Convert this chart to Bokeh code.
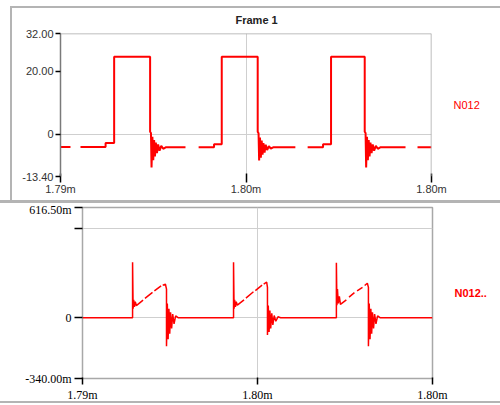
from bokeh.plotting import figure
from bokeh.models import FixedTicker, Range1d, Span, LinearAxis
from bokeh.embed import file_html
from bokeh.resources import INLINE

NAN = float("nan")

# ---------------- data ----------------
title_text = "Frame 1"
top_name = "N012"
bot_name = "N012.."

x_lo, x_hi = 1790.0, 1803.0          # time, microseconds
x_ticks = [1790.0, 1796.5, 1803.0]
x_tick_labels = ["1.79m", "1.80m", "1.80m"]

top_y_lo, top_y_hi = -13.4, 32.0
top_y_ticks = [32.0, 20.0, 0.0, -13.4]
top_y_labels = ["32.00", "20.00", "0", "-13.40"]

bot_y_lo, bot_y_hi = -0.34, 0.6165
bot_y_ticks = [0.6165, 0.5, 0.0, -0.34]
bot_y_labels = ["616.50m", "", "0", "-340.00m"]

top_t = [1790.00, 1790.35, 1790.36, 1790.70, 1791.58, 1791.58, 1791.88, 1791.88,
         1793.14, 1793.14, 1793.17, 1793.19, 1793.22, 1793.25, 1793.28, 1793.31,
         1793.34, 1793.38, 1793.42, 1793.47, 1793.53, 1793.60, 1793.70, 1794.38,
         1794.39, 1794.84, 1795.38, 1795.38, 1795.65, 1795.65, 1796.91, 1796.91,
         1796.94, 1796.96, 1796.99, 1797.02, 1797.05, 1797.08, 1797.11, 1797.15,
         1797.19, 1797.24, 1797.30, 1797.37, 1797.47, 1798.23, 1798.24, 1798.66,
         1799.20, 1799.20, 1799.48, 1799.48, 1800.66, 1800.66, 1800.69, 1800.71,
         1800.74, 1800.77, 1800.80, 1800.83, 1800.86, 1800.90, 1800.94, 1800.99,
         1801.05, 1801.12, 1801.22, 1802.09, 1802.10, 1802.51, 1803.00]
top_v = [-4.0, -4.0, NAN, -4.0, -4.0, -2.8, -2.8, 24.6,
         24.6, 0.8, 0.4, -10.5, -0.8, -8.2, -1.8, -7.0,
         -2.6, -6.0, -3.2, -5.2, -3.7, -4.6, -4.1, -4.1,
         NAN, -4.1, -4.1, -3.2, -3.2, 24.6, 24.6, 0.8,
         0.3, -8.3, -1.0, -7.4, -2.0, -6.5, -2.8, -5.8,
         -3.3, -5.0, -3.8, -4.5, -4.1, -4.1, NAN, -4.1,
         -4.1, -3.2, -3.2, 24.6, 24.6, 0.8, 0.4, -10.5,
         -0.8, -8.2, -1.8, -7.0, -2.6, -6.0, -3.2, -5.2,
         -3.7, -4.6, -4.1, -4.1, NAN, -4.1, -4.1]

bot_t = [1790.00, 1791.86, 1791.86, 1791.88, 1791.90, 1791.93, 1791.96, 1792.00,
         1792.25, 1792.26, 1792.32, 1792.60, 1792.61, 1792.67, 1792.92, 1792.93,
         1792.98, 1793.08, 1793.12, 1793.12, 1793.15, 1793.18, 1793.21, 1793.24,
         1793.27, 1793.31, 1793.35, 1793.40, 1793.46, 1793.55, 1795.61, 1795.61,
         1795.63, 1795.65, 1795.68, 1795.71, 1795.75, 1796.00, 1796.01, 1796.07,
         1796.35, 1796.36, 1796.42, 1796.67, 1796.68, 1796.73, 1796.84, 1796.87,
         1796.87, 1796.90, 1796.93, 1796.96, 1796.99, 1797.03, 1797.07, 1797.12,
         1797.18, 1797.26, 1797.36, 1799.43, 1799.43, 1799.45, 1799.47, 1799.50,
         1799.54, 1799.58, 1799.80, 1799.81, 1799.90, 1800.10, 1800.11, 1800.20,
         1800.40, 1800.41, 1800.48, 1800.58, 1800.62, 1800.62, 1800.65, 1800.68,
         1800.71, 1800.74, 1800.77, 1800.81, 1800.85, 1800.90, 1800.96, 1801.05,
         1803.00]
bot_v = [0.0, 0.0, 0.31, 0.05, 0.10, 0.06, 0.09, 0.068,
         0.098, NAN, 0.108, 0.142, NAN, 0.150, 0.178, NAN,
         0.182, 0.187, 0.16, -0.16, 0.08, -0.12, 0.05, -0.09,
         0.03, -0.06, 0.02, -0.035, 0.01, 0.0, 0.0, 0.31,
         0.05, 0.10, 0.06, 0.09, 0.07, 0.10, NAN, 0.11,
         0.145, NAN, 0.152, 0.182, NAN, 0.188, 0.199, 0.17,
         -0.097, 0.068, -0.08, 0.04, -0.06, 0.025, -0.04, 0.012,
         -0.02, 0.005, 0.0, 0.0, 0.307, 0.07, 0.16, 0.08,
         0.12, 0.075, 0.10, NAN, 0.115, 0.14, NAN, 0.15,
         0.17, NAN, 0.18, 0.193, 0.17, -0.16, 0.08, -0.12,
         0.05, -0.09, 0.03, -0.06, 0.02, -0.035, 0.01, 0.0,
         0.0]

# ---------------- style ----------------
SANS = "Liberation Sans"
SERIF = "Liberation Serif"
RED = "#ff0000"
FRAME_GRAY = "#a8a8a8"
GRID_GRAY = "#cfcfcf"
BOX_GRAY = "#b4b4b4"


def make_fig(height, y_lo, y_hi, bl, br, bt, bb):
    p = figure(width=500, height=height,
               x_range=Range1d(x_lo, x_hi), y_range=Range1d(y_lo, y_hi),
               output_backend="svg", toolbar_location=None,
               min_border_left=bl, min_border_right=br,
               min_border_top=bt, min_border_bottom=bb)
    p.border_fill_color = None
    p.background_fill_color = None
    for ax in (p.xaxis, p.yaxis):
        ax.minor_tick_line_color = None
        ax.major_tick_line_color = "black"
        ax.major_tick_line_width = 1.5
    p.xaxis.ticker = FixedTicker(ticks=x_ticks)
    p.xaxis.major_label_overrides = dict(zip(x_ticks, x_tick_labels))
    p.xgrid.ticker = FixedTicker(ticks=[x_ticks[1]])
    p.xgrid.grid_line_color = GRID_GRAY
    p.ygrid.grid_line_color = GRID_GRAY
    return p


def name_axis(y_lo, y_hi, name, style):
    mid = (y_lo + y_hi) / 2.0
    ax = LinearAxis(ticker=FixedTicker(ticks=[mid]),
                    major_label_overrides={mid: name})
    ax.axis_line_color = None
    ax.major_tick_line_color = None
    ax.minor_tick_line_color = None
    ax.major_tick_in = 0
    ax.major_tick_out = 0
    ax.major_label_standoff = 22
    ax.major_label_text_color = RED
    ax.major_label_text_font = SANS
    ax.major_label_text_font_size = "11px"
    ax.major_label_text_font_style = style
    return ax


# ---------------- top panel ----------------
top = make_fig(202, top_y_lo, top_y_hi, 60, 69, 33, 26)
top.styles = {"box-shadow": ("inset 0 -2px 0 %s, inset 0 6px 0 #ffffff, inset 10px 0 0 #ffffff, "
                             "inset 0 8px 0 %s, inset 12px 0 0 %s") % (BOX_GRAY, BOX_GRAY, BOX_GRAY)}
top.outline_line_color = None
top.yaxis.ticker = FixedTicker(ticks=top_y_ticks)
top.yaxis.major_label_overrides = dict(zip(top_y_ticks, top_y_labels))
top.ygrid.ticker = FixedTicker(ticks=[0.0])
top.yaxis.axis_line_color = "#7a7a7a"
top.yaxis.axis_line_width = 1.5
top.yaxis.major_tick_out = 5
top.yaxis.major_tick_in = 0
top.yaxis.major_label_standoff = 2
top.xaxis.axis_line_color = None
top.xaxis.major_tick_out = 6
top.xaxis.major_tick_in = 3
top.xaxis.major_label_standoff = 0
for ax in (top.xaxis, top.yaxis):
    ax.major_label_text_font = SANS
    ax.major_label_text_font_size = "11px"
    ax.major_label_text_color = "#333333"
top.add_layout(Span(location=top_y_hi, dimension="width", line_color=FRAME_GRAY, line_width=1.5))
top.add_layout(Span(location=x_hi, dimension="height", line_color=FRAME_GRAY, line_width=1.5))

top.title.text = title_text
top.title.align = "left"
top.title.offset = 175
top.title.standoff = 15
top.title.text_font = SANS
top.title.text_font_size = "11px"
top.title.text_font_style = "bold"
top.title.text_color = "#222222"

top.line(top_t, top_v, line_color=RED, line_width=2)
top.add_layout(name_axis(top_y_lo, top_y_hi, top_name, "normal"), "right")

# ---------------- bottom panel ----------------
bot = make_fig(203, bot_y_lo, bot_y_hi, 82, 68, 5, 27)
bot.styles = {"box-shadow": "inset 0 1px 0 %s, inset 0 -2px 0 #ffffff, inset 0 -4px 0 %s" % (BOX_GRAY, BOX_GRAY)}
bot.outline_line_color = FRAME_GRAY
bot.outline_line_width = 1.5
bot.yaxis.ticker = FixedTicker(ticks=bot_y_ticks)
bot.yaxis.major_label_overrides = dict(zip(bot_y_ticks, bot_y_labels))
bot.ygrid.ticker = FixedTicker(ticks=[0.5, 0.0])
bot.yaxis.axis_line_color = None
bot.yaxis.major_tick_out = 8
bot.yaxis.major_tick_in = 0
bot.yaxis.major_label_standoff = 3
bot.xaxis.axis_line_color = None
bot.xaxis.major_tick_out = 6
bot.xaxis.major_tick_in = 1
bot.xaxis.major_label_standoff = 3
for ax in (bot.xaxis, bot.yaxis):
    ax.major_label_text_font = SERIF
    ax.major_label_text_font_size = "12px"
    ax.major_label_text_color = "black"

bot.line(bot_t, bot_v, line_color=RED, line_width=1.5)
bot.add_layout(name_axis(bot_y_lo, bot_y_hi, bot_name, "bold"), "right")

open("out.html", "w").write(file_html([top, bot], INLINE))
